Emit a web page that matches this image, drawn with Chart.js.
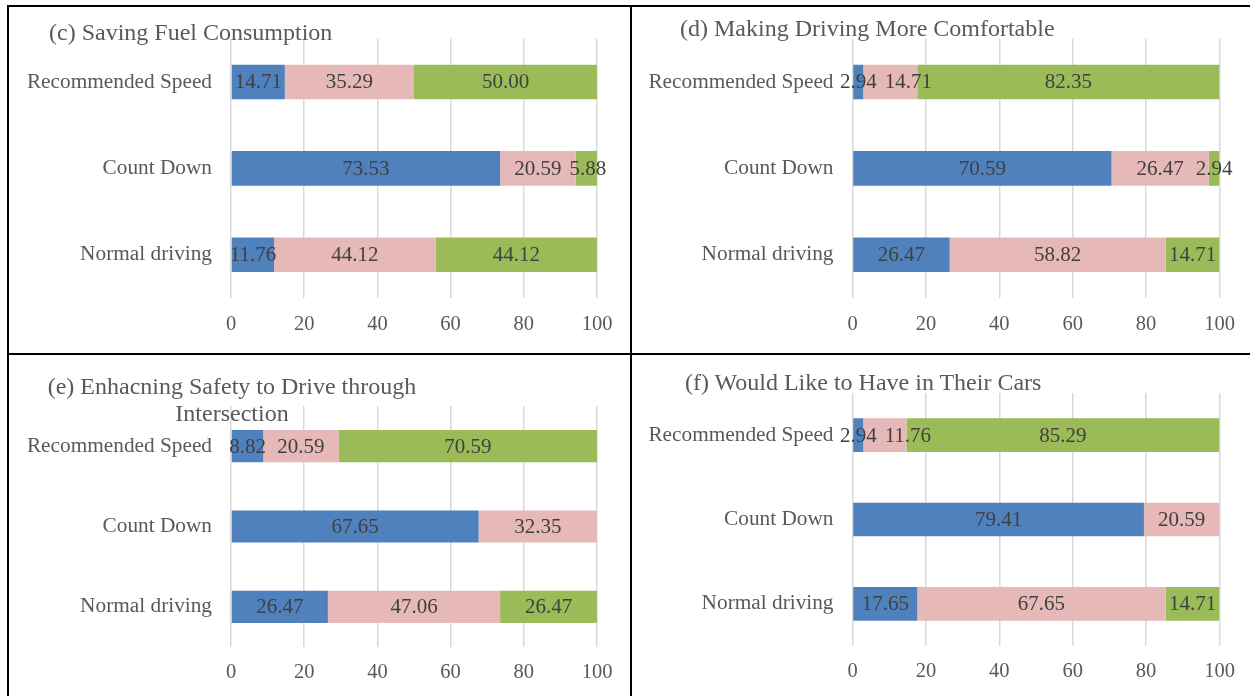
<!DOCTYPE html>
<html>
<head>
<meta charset="utf-8">
<script src="https://cdn.jsdelivr.net/npm/chart.js@4.4.0/dist/chart.umd.min.js"></script>
<style>
html,body{margin:0;padding:0;background:#fff;}
body{width:1250px;height:696px;position:relative;overflow:hidden;font-family:"Liberation Serif","Times New Roman",serif;}
canvas{position:absolute;}
.line{position:absolute;background:#000;}
.title{position:absolute;color:#595959;font-size:24px;line-height:28px;white-space:nowrap;}
</style>
</head>
<body>
<div class="line" style="left:7px;top:5px;width:1243px;height:2px;"></div>
<div class="line" style="left:7px;top:5px;width:2px;height:691px;"></div>
<div class="line" style="left:630px;top:5px;width:2px;height:691px;"></div>
<div class="line" style="left:7px;top:353px;width:1243px;height:2px;"></div>

<canvas id="cC" width="621" height="346" style="left:9px;top:7px;width:621px;height:346px;"></canvas>
<canvas id="cD" width="618" height="346" style="left:632px;top:7px;width:618px;height:346px;"></canvas>
<canvas id="cE" width="621" height="341" style="left:9px;top:355px;width:621px;height:341px;"></canvas>
<canvas id="cF" width="618" height="341" style="left:632px;top:355px;width:618px;height:341px;"></canvas>

<div class="title" id="tC" style="left:49px;top:18px;"></div>
<div class="title" id="tD" style="left:680px;top:14px;"></div>
<div class="title" id="tE" style="left:32px;top:373px;width:400px;text-align:center;white-space:normal;line-height:27px;"></div>
<div class="title" id="tF" style="left:685px;top:368px;"></div>

<script>
// ---- data ----
const categories = ['Recommended Speed', 'Count Down', 'Normal driving'];
const xTickValues = [0, 20, 40, 60, 80, 100];

const titleFuel = '(c) Saving Fuel Consumption';
const titleComfort = '(d) Making Driving More Comfortable';
const titleSafetyLine1 = '(e) Enhacning Safety to Drive through';
const titleSafetyLine2 = 'Intersection';
const titleCars = '(f) Would Like to Have in Their Cars';

const fuelBlue  = [14.71, 73.53, 11.76];
const fuelPink  = [35.29, 20.59, 44.12];
const fuelGreen = [50.00, 5.88, 44.12];

const comfortBlue  = [2.94, 70.59, 26.47];
const comfortPink  = [14.71, 26.47, 58.82];
const comfortGreen = [82.35, 2.94, 14.71];

const safetyBlue  = [8.82, 67.65, 26.47];
const safetyPink  = [20.59, 32.35, 47.06];
const safetyGreen = [70.59, 0, 26.47];

const carsBlue  = [2.94, 79.41, 17.65];
const carsPink  = [11.76, 20.59, 67.65];
const carsGreen = [85.29, 0, 14.71];

// ---- rendering ----
document.getElementById('tC').textContent = titleFuel;
document.getElementById('tD').textContent = titleComfort;
document.getElementById('tE').innerHTML = titleSafetyLine1 + '<br>' + titleSafetyLine2;
document.getElementById('tF').textContent = titleCars;

const FONT = '"Liberation Serif", "Times New Roman", serif';
Chart.defaults.font.family = FONT;
Chart.defaults.color = '#595959';

// centred value labels; a label that would collide with the previous one in its row is nudged right
const valueLabels = {
  id: 'valueLabels',
  afterDatasetsDraw(chart) {
    const ctx = chart.ctx;
    ctx.save();
    ctx.font = '21px ' + FONT;
    ctx.fillStyle = '#404040';
    ctx.textAlign = 'center';
    ctx.textBaseline = 'middle';
    const n = chart.data.labels.length;
    for (let j = 0; j < n; j++) {
      let prevRight = -Infinity;
      chart.data.datasets.forEach((ds, i) => {
        const v = ds.data[j];
        if (!v) return;
        const el = chart.getDatasetMeta(i).data[j];
        const p = el.getProps(['x', 'y', 'base'], true);
        const txt = v.toFixed(2);
        const w = ctx.measureText(txt).width;
        let cx = (p.x + p.base) / 2;
        if (cx - w / 2 < prevRight + 8) cx = prevRight + 8 + w / 2;
        ctx.fillText(txt, cx, p.y + 1);
        prevRight = cx + w / 2;
      });
    }
    ctx.restore();
  }
};

function makeChart(id, blue, pink, green, cfg) {
  new Chart(document.getElementById(id), {
    type: 'bar',
    data: {
      labels: categories,
      datasets: [
        { data: blue, backgroundColor: '#4F81BD' },
        { data: pink, backgroundColor: '#E6B9B8' },
        { data: green, backgroundColor: '#9BBB59' }
      ]
    },
    options: {
      indexAxis: 'y',
      responsive: false,
      animation: false,
      devicePixelRatio: 1,
      datasets: { bar: { barPercentage: 0.4, categoryPercentage: 1, borderWidth: 0 } },
      layout: { padding: { left: 0, right: cfg.padRight, top: cfg.padTop, bottom: 0 } },
      plugins: { legend: { display: false }, tooltip: { enabled: false }, title: { display: false } },
      scales: {
        x: {
          stacked: true,
          min: 0, max: 100,
          afterBuildTicks: s => { s.ticks = xTickValues.map(v => ({ value: v })); },
          afterFit: s => { s.height = cfg.xHeight; },
          grid: { color: '#D9D9D9', lineWidth: 1.5, drawTicks: false },
          border: { display: false },
          ticks: { font: { size: 20.5 }, color: '#595959', padding: cfg.tickPad }
        },
        y: {
          stacked: true,
          afterFit: s => { s.width = cfg.yWidth; },
          grid: { display: false, drawTicks: false },
          border: { display: false },
          ticks: { font: { size: 21.3 }, color: '#595959', padding: 19 }
        }
      }
    },
    plugins: [valueLabels]
  });
}

makeChart('cC', fuelBlue, fuelPink, fuelGreen, { padRight: 33, padTop: 29, xHeight: 55, yWidth: 222, tickPad: 14 });
makeChart('cD', comfortBlue, comfortPink, comfortGreen, { padRight: 30.5, padTop: 29, xHeight: 55, yWidth: 220.5, tickPad: 14 });
makeChart('cE', safetyBlue, safetyPink, safetyGreen, { padRight: 33, padTop: 51, xHeight: 49, yWidth: 222, tickPad: 13 });
makeChart('cF', carsBlue, carsPink, carsGreen, { padRight: 30.5, padTop: 38, xHeight: 50, yWidth: 220.5, tickPad: 13 });
</script>
</body>
</html>
